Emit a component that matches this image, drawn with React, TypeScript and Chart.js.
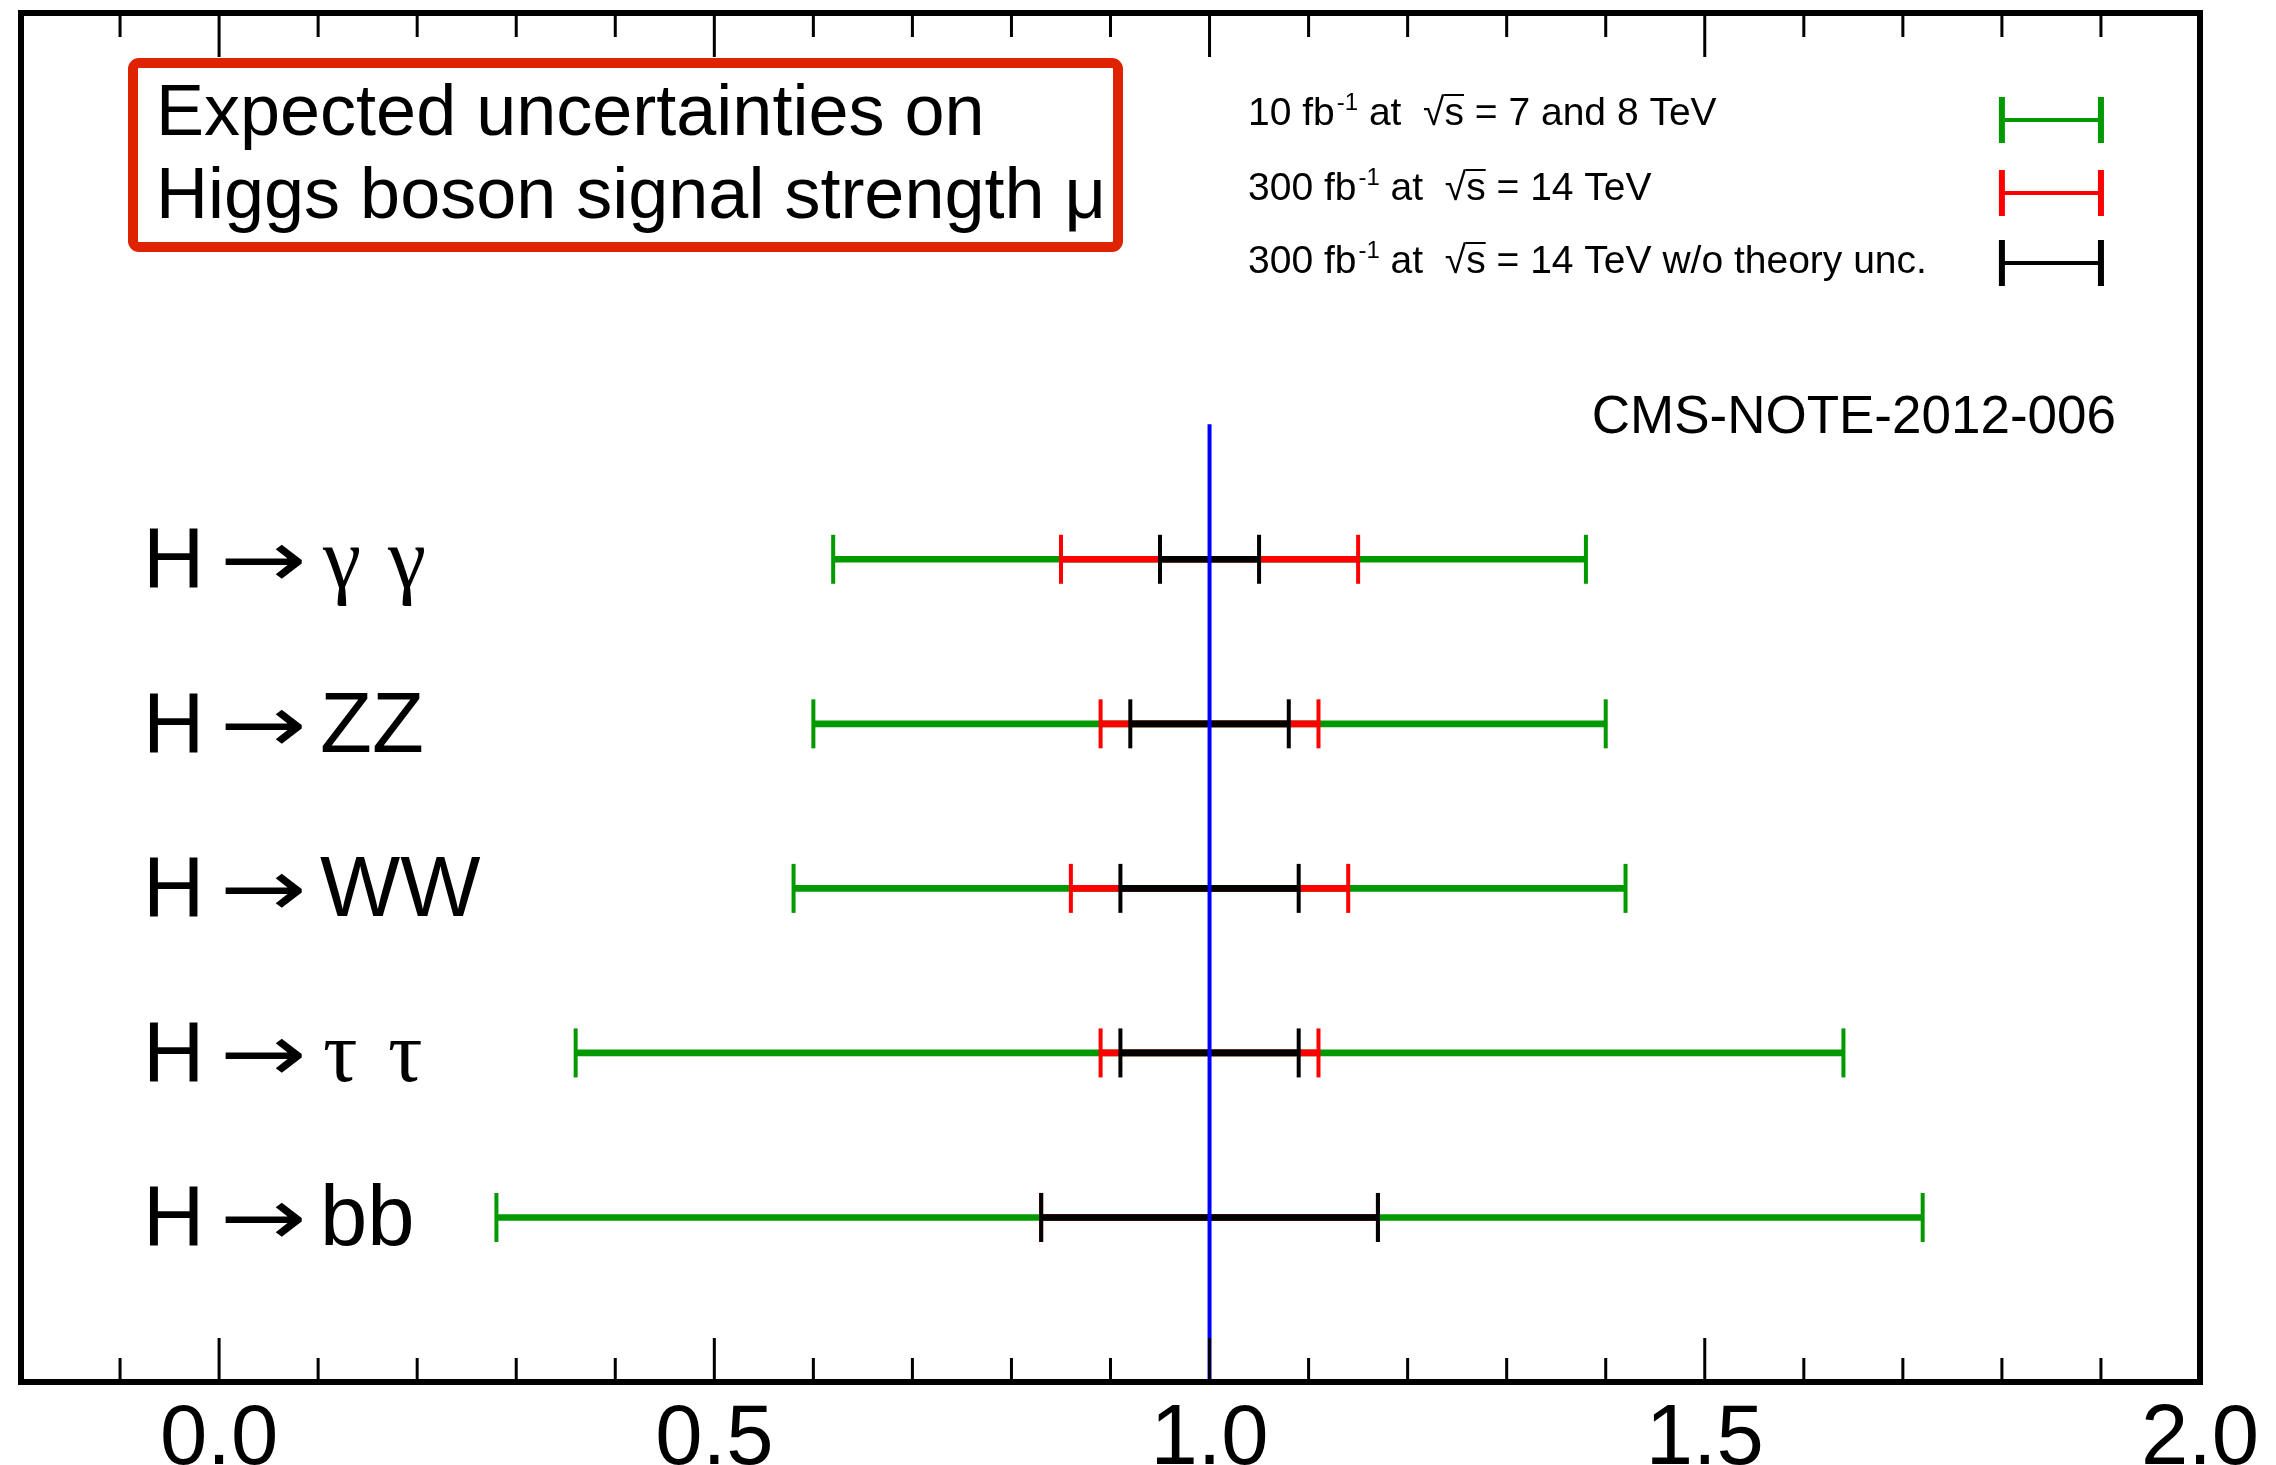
import React, { useEffect, useRef } from 'react';
import { Chart, registerables } from 'chart.js';

Chart.register(...registerables);

// Decay channels, one row each (top to bottom)
const channels = ['H → γ γ', 'H → ZZ', 'H → WW', 'H → τ τ', 'H → bb'];
const rowPositions = [5, 4, 3, 2, 1];
const signalStrength = [1.0, 1.0, 1.0, 1.0, 1.0];

// Expected (symmetric) uncertainties on mu per channel
const unc10fb = [0.38, 0.4, 0.42, 0.64, 0.72];
const unc300fb = [0.15, 0.11, 0.14, 0.11, 0.17];
const unc300fbNoTheory = [0.05, 0.08, 0.09, 0.09, 0.17];

// Axis
const xMin = -0.2;
const xMax = 2.0;
const xTickLabels = ['0.0', '0.5', '1.0', '1.5', '2.0'];

// Reference line at the SM expectation
const referenceMu = 1.0;
const referenceLineTop = 5.82;

// Legend entries
const legendLumi = ['10 fb', '300 fb', '300 fb'];
const legendEnergy = ['7 and 8 TeV', '14 TeV', '14 TeV w/o theory unc.'];
const seriesColors = ['#009900', '#ff0000', '#000000'];
const legendMarkerRange = [1.8, 1.9];

const titleLines = ['Expected uncertainties on', 'Higgs boson signal strength μ'];
const noteLabel = 'CMS-NOTE-2012-006';

const SANS = '"Liberation Sans", Arial, Helvetica, sans-serif';
const SERIF = '"Liberation Serif", "DejaVu Serif", serif';
const ARROW_FONT = '"DejaVu Sans", "Liberation Sans", sans-serif';

const W = 2276;
const H = 1465;

const seriesUnc = [unc10fb, unc300fb, unc300fbNoTheory];
const seriesNames = ['10 fb-1 at 7 and 8 TeV', '300 fb-1 at 14 TeV', '300 fb-1 at 14 TeV w/o theory unc.'];

function buildDatasets(): any[] {
  const sets: any[] = [];
  seriesUnc.forEach((unc, s) => {
    const color = seriesColors[s];
    const order = 3 - s; // black on top, then red, then green
    sets.push({
      type: 'bar',
      label: seriesNames[s],
      indexAxis: 'y',
      grouped: false,
      data: rowPositions.map((y, i) => ({ x: [signalStrength[i] - unc[i], signalStrength[i] + unc[i]], y })),
      backgroundColor: color,
      borderWidth: 0,
      barThickness: 6,
      maxBarThickness: 6,
      order,
    });
    sets.push({
      type: 'scatter',
      label: seriesNames[s] + ' caps',
      data: rowPositions.flatMap((y, i) => [
        { x: signalStrength[i] - unc[i], y },
        { x: signalStrength[i] + unc[i], y },
      ]),
      showLine: false,
      pointStyle: 'line',
      rotation: 90,
      pointRadius: 24.5,
      pointHoverRadius: 24.5,
      pointBorderWidth: 4,
      pointBorderColor: color,
      pointBackgroundColor: color,
      order,
    });
  });
  sets.push({
    type: 'line',
    label: 'SM',
    data: [
      { x: referenceMu, y: 0 },
      { x: referenceMu, y: referenceLineTop },
    ],
    borderColor: '#0000ff',
    borderWidth: 4,
    pointRadius: 0,
    fill: false,
    order: 0,
  });
  return sets;
}

function drawSqrtS(ctx: CanvasRenderingContext2D, x: number, baseline: number, size: number): number {
  ctx.font = `${size}px ${SANS}`;
  const m = ctx.measureText('√');
  const rw = m.width;
  ctx.fillText('√', x, baseline);
  const sw = ctx.measureText('s').width;
  ctx.fillText('s', x + rw, baseline);
  ctx.save();
  ctx.lineWidth = 2;
  ctx.beginPath();
  const yTop = baseline - (m.actualBoundingBoxAscent || size * 0.8) + 1;
  ctx.moveTo(x + (m.actualBoundingBoxRight || rw) - 1, yTop);
  ctx.lineTo(x + rw + sw, yTop);
  ctx.stroke();
  ctx.restore();
  return rw + sw;
}

const overlay = {
  id: 'overlay',
  afterDraw(chart: any) {
    const { ctx, chartArea: a, scales } = chart;
    const xs = scales.x;
    const ys = scales.y;
    ctx.save();
    ctx.fillStyle = '#000';
    ctx.strokeStyle = '#000';

    // inward ticks on bottom and top edges
    ctx.lineWidth = 3;
    xs.ticks.forEach((t: any) => {
      const v = t.value;
      const major = Math.abs(v * 2 - Math.round(v * 2)) < 1e-6;
      const len = major ? 44 : 24;
      const px = xs.getPixelForValue(v);
      ctx.beginPath();
      ctx.moveTo(px, a.bottom);
      ctx.lineTo(px, a.bottom - len);
      ctx.moveTo(px, a.top);
      ctx.lineTo(px, a.top + len);
      ctx.stroke();
    });

    // frame
    ctx.lineWidth = 6;
    ctx.strokeRect(a.left, a.top, a.right - a.left, a.bottom - a.top);

    // channel labels
    ctx.textBaseline = 'alphabetic';
    ctx.textAlign = 'left';
    channels.forEach((label, i) => {
      const parts = label.split(' ');
      const baseline = ys.getPixelForValue(rowPositions[i]) + 28;
      ctx.font = `85px ${SANS}`;
      ctx.fillText(parts[0], 143, baseline);
      // arrow stretched to a fixed ink width
      ctx.font = `80px ${ARROW_FONT}`;
      const am = ctx.measureText(parts[1]);
      const inkL = am.actualBoundingBoxLeft || 0;
      const inkW = (am.actualBoundingBoxRight || am.width) + inkL;
      const sx = 78 / inkW;
      ctx.save();
      ctx.translate(225, baseline);
      ctx.scale(sx, 1);
      ctx.fillText(parts[1], inkL, 0);
      ctx.restore();
      let x = 320;
      parts.slice(2).forEach((p) => {
        const greek = /[\u03b1-\u03c9]/.test(p);
        ctx.font = greek ? `86px ${SERIF}` : `85px ${SANS}`;
        ctx.fillText(p, x + (greek ? 3 : 0), baseline);
        x += greek ? 65 : ctx.measureText(p + ' ').width;
      });
    });

    // title box
    ctx.strokeStyle = '#df2200';
    ctx.lineWidth = 10;
    ctx.beginPath();
    ctx.roundRect(133, 63, 985, 184, 6);
    ctx.stroke();
    ctx.font = `72px ${SANS}`;
    ctx.fillText(titleLines[0], 156, 135);
    ctx.fillText(titleLines[1], 156, 218);

    // note label
    ctx.font = `53px ${SANS}`;
    ctx.textAlign = 'right';
    ctx.fillText(noteLabel, 2116, 433);
    ctx.textAlign = 'left';

    // legend
    const markerY = [120, 193, 263];
    const textBase = [125, 200, 273];
    const lx0 = xs.getPixelForValue(legendMarkerRange[0]);
    const lx1 = xs.getPixelForValue(legendMarkerRange[1]);
    const size = 39;
    legendLumi.forEach((lumi, i) => {
      const col = seriesColors[i];
      ctx.strokeStyle = col;
      ctx.lineWidth = 4;
      ctx.beginPath();
      ctx.moveTo(lx0, markerY[i]);
      ctx.lineTo(lx1, markerY[i]);
      ctx.stroke();
      ctx.lineWidth = 6;
      ctx.beginPath();
      ctx.moveTo(lx0, markerY[i] - 23);
      ctx.lineTo(lx0, markerY[i] + 23);
      ctx.moveTo(lx1, markerY[i] - 23);
      ctx.lineTo(lx1, markerY[i] + 23);
      ctx.stroke();

      ctx.strokeStyle = '#000';
      ctx.fillStyle = '#000';
      const b = textBase[i];
      let x = 1248;
      ctx.font = `${size}px ${SANS}`;
      ctx.fillText(lumi, x, b);
      x += ctx.measureText(lumi).width + 2;
      ctx.font = `24px ${SANS}`;
      ctx.fillText('-1', x, b - 15);
      x += ctx.measureText('-1').width;
      ctx.font = `${size}px ${SANS}`;
      const sp = ctx.measureText(' ').width;
      x += sp;
      ctx.fillText('at', x, b);
      x += ctx.measureText('at').width + sp * 2;
      x += drawSqrtS(ctx, x, b, size);
      ctx.font = `${size}px ${SANS}`;
      x += sp;
      ctx.fillText('= ' + legendEnergy[i], x, b);
    });

    ctx.restore();
  },
};

export default function App() {
  const ref = useRef<HTMLCanvasElement>(null);
  useEffect(() => {
    const canvas = ref.current;
    if (!canvas) return;
    const chart = new Chart(canvas, {
      type: 'scatter',
      data: { datasets: buildDatasets() },
      options: {
        responsive: false,
        animation: false,
        devicePixelRatio: 1,
        events: [],
        layout: { autoPadding: false, padding: { left: 21, right: 76, top: 13, bottom: 0 } },
        plugins: {
          legend: { display: false },
          tooltip: { enabled: false },
          title: { display: false },
        },
        scales: {
          x: {
            type: 'linear',
            position: 'bottom',
            min: xMin,
            max: xMax,
            offset: false,
            grid: { display: false, drawTicks: false, offset: false },
            border: { display: false },
            ticks: {
              stepSize: 0.1,
              autoSkip: false,
              maxRotation: 0,
              minRotation: 0,
              padding: 8,
              color: '#000',
              font: { family: SANS, size: 85 },
              callback: (value: any) => {
                const lbl = xTickLabels.find((l) => Math.abs(parseFloat(l) - Number(value)) < 1e-6);
                return lbl ?? '';
              },
            },
            afterFit: (scale: any) => {
              scale.height = 83;
            },
          },
          y: {
            type: 'linear',
            min: 0,
            max: 8.32,
            offset: false,
            grid: { offset: false },
            display: false,
          },
        },
      },
      plugins: [overlay],
    } as any);
    return () => chart.destroy();
  }, []);
  return (
    <div style={{ position: 'fixed', left: 0, top: 0, width: W, height: H, background: '#fff' }}>
      <canvas ref={ref} width={W} height={H} style={{ display: 'block', width: W, height: H }} />
    </div>
  );
}
